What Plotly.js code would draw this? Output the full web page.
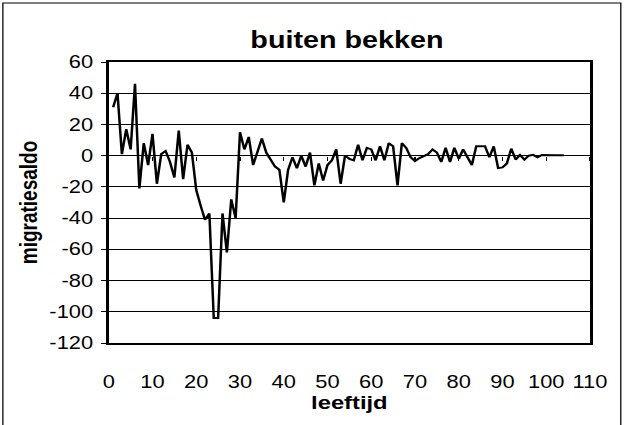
<!DOCTYPE html>
<html>
<head>
<meta charset="utf-8">
<script src="https://cdn.plot.ly/plotly-3.0.1.min.js"></script>
<style>
  html, body { margin: 0; padding: 0; background: #fff; overflow: hidden; }
  /* the original picture is stretched sideways, so the chart is drawn
     narrower and widened with a transform */
  #chart { width: 500px; height: 425px; transform: scaleX(1.25); transform-origin: 0 0; }
</style>
</head>
<body>
<div id="chart"></div>
<script>
// leeftijd (age) 1..104 and migratiesaldo
const ages = [];
for (let a = 1; a <= 104; a++) ages.push(a);

const saldo = [
    31, 40, 1, 17, 4, 46, -21, 8, -6, 14,          // 1-10
    -18, 1, 3, -4, -14, 16, -15, 7, 2, -22,        // 11-20
    -32, -41, -37, -104, -104, -37, -62, -28, -40, 15, // 21-30
    4, 12, -6, 3, 11, 2, -3, -7, -9, -30,          // 31-40
    -9, -1, -8, 0, -7, 2, -19, -5, -16, -6,        // 41-50
    -3, 4, -18, 0, -2, -3, 7, -3, 5, 4,            // 51-60
    -3, 6, -3, 8, 6, -19, 8, 5, -1, -3.5,          // 61-70
    -1.5, 0, 1, 4, 2, -4, 5, -4, 5, -2,            // 71-80
    4, -1, -6, 6, 6, 6, -1, 6, -8, -7.5,           // 81-90
    -5, 4.5, -2.5, 0.5, -2.5, 0, 0.5, -1, 0.5, 0.3, // 91-100
    0.3, 0.3, 0.3, 0.3                             // 101-104
];

const xTicks = [0, 10, 20, 30, 40, 50, 60, 70, 80, 90, 100, 110];
const yTicks = [-120, -100, -80, -60, -40, -20, 0, 20, 40, 60];
const yTickLabels = yTicks.map(String); // plain hyphen, like the original

const fontFamily = "Liberation Sans, Arial, sans-serif";

const traces = [
    {
        x: ages,
        y: saldo,
        type: "scatter",
        mode: "lines",
        line: { color: "#000", width: 2 },
        hoverinfo: "skip",
    },
    {
        // invisible copy so the x-axis crossing at y=0 gets drawn
        x: ages,
        y: saldo,
        xaxis: "x2",
        type: "scatter",
        mode: "lines",
        line: { color: "rgba(0,0,0,0)", width: 0 },
        hoverinfo: "skip",
    },
];

const layout = {
    width: 500,
    height: 425,
    margin: { l: 87, r: 28, t: 62, b: 82 },
    paper_bgcolor: "#fff",
    plot_bgcolor: "#fff",
    showlegend: false,
    font: { family: fontFamily, color: "#000", size: 17.5 },
    title: {
        text: "<b>buiten bekken</b>",
        font: { family: fontFamily, size: 23, color: "#000" },
        xref: "paper",
        x: 0.495,
        xanchor: "center",
        y: 0.905,
        yanchor: "middle",
    },
    xaxis: {
        range: [0, 110],
        tickvals: xTicks,
        ticks: "",
        showgrid: false,
        zeroline: false,
        showline: true,
        linecolor: "#000",
        linewidth: 2,
        mirror: true,
        tickfont: { size: 17.5 },
        ticklabelstandoff: 22,
        title: { text: "<b>leeftijd</b>", font: { size: 19 }, standoff: 4 },
    },
    xaxis2: {
        overlaying: "x",
        matches: "x",
        anchor: "free",
        position: 2 / 3,
        tickvals: xTicks,
        ticks: "outside",
        ticklen: 4,
        tickwidth: 1,
        tickcolor: "#000",
        showticklabels: false,
        showgrid: false,
        showline: false,
        zeroline: false,
    },
    yaxis: {
        range: [-120, 60],
        tickvals: yTicks,
        ticktext: yTickLabels,
        ticks: "outside",
        ticklen: 4,
        tickcolor: "#000",
        showgrid: true,
        gridcolor: "#000",
        gridwidth: 1,
        zeroline: false,
        showline: true,
        linecolor: "#000",
        linewidth: 2,
        mirror: true,
        tickfont: { size: 17.5 },
        ticklabelstandoff: 3,
        title: { text: "<b>migratiesaldo</b>", font: { size: 19 }, standoff: 4 },
    },
    shapes: [
        {
            // outer chart border (bottom edge falls outside the picture)
            type: "rect",
            xref: "paper",
            yref: "paper",
            x0: -0.22, x1: 1.064,
            y0: -0.5, y1: 1.21,
            line: { color: "#000", width: 1 },
        },
    ],
};

Plotly.newPlot("chart", traces, layout, { staticPlot: true });
</script>
</body>
</html>
